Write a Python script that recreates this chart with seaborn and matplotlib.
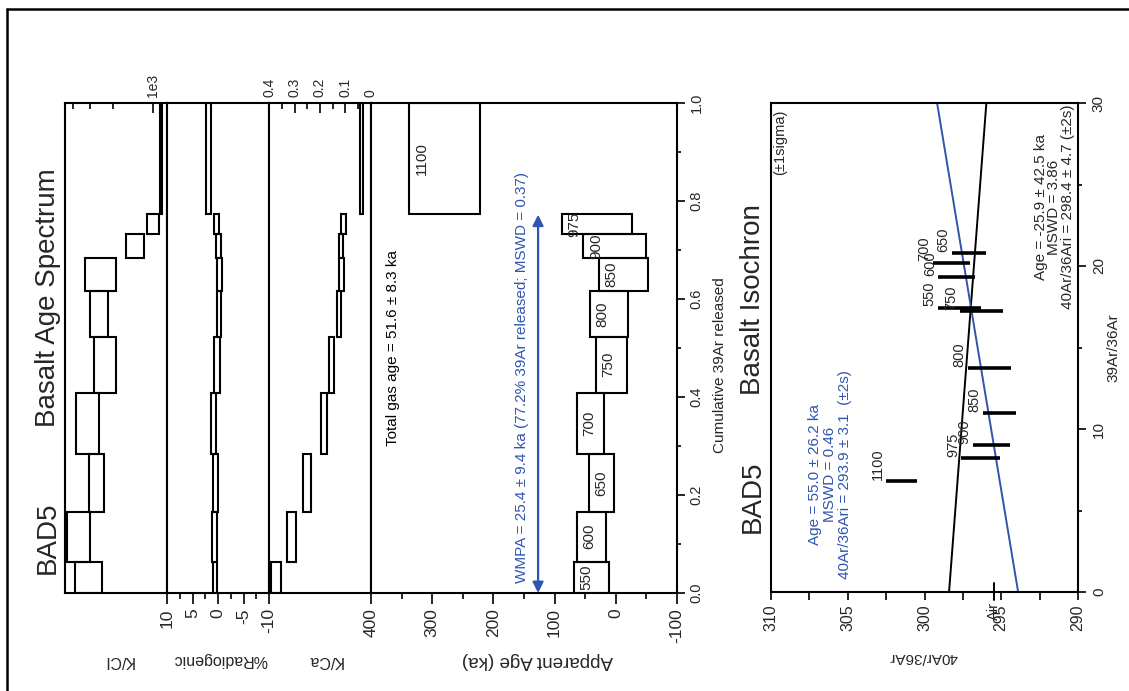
import numpy as np
import pandas as pd
import matplotlib
matplotlib.use("Agg")
import matplotlib.pyplot as plt
import seaborn as sns
from matplotlib.lines import Line2D
from matplotlib.ticker import FixedLocator, FixedFormatter, MultipleLocator, NullFormatter

sns.set_style("ticks")
plt.rcParams['font.family'] = ['Liberation Sans', 'DejaVu Sans']
plt.rcParams['axes.unicode_minus'] = False

# ---------------- data: age spectrum ----------------
steps = ["550", "600", "650", "700", "750", "800", "850", "900", "975", "1100"]
cum_39ar = [0.0, 0.064, 0.166, 0.284, 0.409, 0.523, 0.616, 0.684, 0.732, 0.773, 1.0]
age_ka = [39.2, 39.5, 23.1, 41.4, 7.5, 11.4, -13.0, 2.1, 31.2, 279.7]
age_err = [28.6, 23.5, 20.7, 22.6, 25.3, 30.8, 40.0, 51.0, 57.2, 57.8]
kcl_lo = [2430, 2980, 2365, 2580, 1905, 2210, 1900, 1170, 900, 860]
kcl_hi = [3860, 4450, 3065, 3790, 2810, 2980, 3245, 1600, 1115, 897]
rad_lo = [0.13, 0.26, -0.07, 0.39, -0.39, -0.52, -0.72, -0.59, -0.26, 1.44]
rad_hi = [1.05, 1.11, 1.05, 1.44, 0.72, 0.26, 0.26, 0.39, 0.78, 2.42]
kca_lo = [0.354, 0.294, 0.236, 0.174, 0.144, 0.118, 0.106, 0.109, 0.099, 0.030]
kca_hi = [0.393, 0.328, 0.268, 0.197, 0.163, 0.135, 0.124, 0.124, 0.119, 0.043]
age_ticks = [400, 300, 200, 100, 0, -100]
rad_ticks = [10, 5, 0, -5, -10]
kca_ticks = [0.4, 0.3, 0.2, 0.1, 0.0]
kca_tick_labels = ["0.4", "0.3", "0.2", "0.1", "0"]
cum_ticks = [0.0, 0.2, 0.4, 0.6, 0.8, 1.0]
wmpa_top = 0.772
wmpa_text = "WMPA = 25.4 \u00b1 9.4 ka (77.2% 39Ar released; MSWD = 0.37)"
total_gas_text = "Total gas age = 51.6 \u00b1 8.3 ka"

# ---------------- data: isochron ----------------
iso_steps = ["550", "600", "650", "700", "750", "800", "850", "900", "975", "1100"]
iso_39_36 = [17.44, 19.3, 20.8, 20.2, 17.24, 13.72, 10.96, 9.02, 8.2, 6.81]
iso_40_36 = [297.70, 297.92, 297.10, 298.25, 296.30, 295.75, 295.10, 295.65, 296.35, 301.50]
iso_40_36_err = [1.41, 1.19, 1.13, 1.20, 1.40, 1.41, 1.09, 1.20, 1.25, 0.98]
fit_names = ["all steps", "plateau"]
fit_intercept = [298.4, 293.9]
fit_slope = [-0.081, 0.176]
fit_colors = ["black", "#2f55b0"]
fit_text_black = "Age = -25.9 \u00b1 42.5 ka\nMSWD = 3.86\n40Ar/36Ari = 298.4 \u00b1 4.7 (\u00b12s)"
fit_text_blue = "Age = 55.0 \u00b1 26.2 ka\nMSWD = 0.46\n40Ar/36Ari = 293.9 \u00b1 3.1  (\u00b12s)"
air_value = 295.5
iso_x_ticks = [310, 305, 300, 295, 290]
iso_y_ticks = [0, 10, 20, 30]

BLUE = "#2f55b0"
W, H = 1129, 691
fig = plt.figure(figsize=(W / 100, H / 100), dpi=100)


def rect(x0, y0, x1, y1):
    return [x0 / W, 1 - y1 / H, (x1 - x0) / W, (y1 - y0) / H]


def fx(x):
    return x / W


def fy(y):
    return 1 - y / H


LW = 1.5
ax_kcl = fig.add_axes(rect(65, 103, 167, 593))
ax_rad = fig.add_axes(rect(167, 103, 269, 593))
ax_kca = fig.add_axes(rect(269, 103, 371, 593))
ax_age = fig.add_axes(rect(371, 103, 677, 593))
ax_iso = fig.add_axes(rect(771, 103, 1078, 592))

cum = np.array(cum_39ar)
lo_c = cum[:-1]
hgt = np.diff(cum)
mid_c = lo_c + hgt / 2

for ax in (ax_kcl, ax_rad, ax_kca, ax_age, ax_iso):
    for s in ax.spines.values():
        s.set_linewidth(LW)
        s.set_color("black")
    ax.set_facecolor("white")
    ax.tick_params(left=False, labelleft=False, right=False, labelright=False,
                   top=False, labeltop=False, bottom=False, labelbottom=False,
                   which="both", color="black", width=1.2)

box_kw = dict(align="edge", facecolor="none", edgecolor="black", linewidth=LW)

# K/Cl (log)
ax_kcl.set_xscale("log")
ax_kcl.barh(lo_c, np.array(kcl_hi) - np.array(kcl_lo), left=kcl_lo, height=hgt, **box_kw)
ax_kcl.set_xlim(4620, 790)
ax_kcl.set_ylim(0, 1)
ax_kcl.xaxis.set_major_locator(FixedLocator([1000]))
ax_kcl.xaxis.set_major_formatter(FixedFormatter(["1e3"]))
ax_kcl.xaxis.set_minor_locator(FixedLocator([2000, 3000, 4000]))
ax_kcl.xaxis.set_minor_formatter(NullFormatter())
ax_kcl.tick_params(axis="x", which="both", top=True, labeltop=True, direction="in",
                   labelrotation=90, labelsize=10, pad=4)
ax_kcl.tick_params(axis="x", which="major", length=7)
ax_kcl.tick_params(axis="x", which="minor", length=4)

# %Radiogenic
ax_rad.barh(lo_c, np.array(rad_hi) - np.array(rad_lo), left=rad_lo, height=hgt, **box_kw)
ax_rad.set_xlim(10, -10)
ax_rad.set_ylim(0, 1)
ax_rad.xaxis.set_major_locator(FixedLocator(rad_ticks))
ax_rad.xaxis.set_minor_locator(MultipleLocator(2.5))
ax_rad.tick_params(axis="x", which="both", bottom=True, labelbottom=True, direction="out",
                   labelrotation=90, labelsize=12.5, pad=3)
ax_rad.tick_params(axis="x", which="major", length=8)
ax_rad.tick_params(axis="x", which="minor", length=4)

# K/Ca
ax_kca.barh(lo_c, np.array(kca_hi) - np.array(kca_lo), left=kca_lo, height=hgt, **box_kw)
ax_kca.set_xlim(0.4, 0.0)
ax_kca.set_ylim(0, 1)
ax_kca.xaxis.set_major_locator(FixedLocator(kca_ticks))
ax_kca.xaxis.set_major_formatter(FixedFormatter(kca_tick_labels))
ax_kca.xaxis.set_minor_locator(MultipleLocator(0.05))
ax_kca.tick_params(axis="x", which="both", top=True, labeltop=True, direction="in",
                   labelrotation=90, labelsize=10, pad=4)
ax_kca.tick_params(axis="x", which="major", length=7)
ax_kca.tick_params(axis="x", which="minor", length=4)

# Apparent age
ax_age.barh(lo_c, 2 * np.array(age_err), left=np.array(age_ka) - np.array(age_err), height=hgt, **box_kw)
ax_age.set_xlim(400, -100)
ax_age.set_ylim(0, 1)
ax_age.xaxis.set_major_locator(FixedLocator(age_ticks))
ax_age.xaxis.set_minor_locator(MultipleLocator(50))
ax_age.tick_params(axis="x", which="both", bottom=True, labelbottom=True, direction="out",
                   labelrotation=90, labelsize=12.5, pad=3)
ax_age.tick_params(axis="x", which="major", length=8)
ax_age.tick_params(axis="x", which="minor", length=4)
ax_age.yaxis.set_major_locator(FixedLocator(cum_ticks))
ax_age.yaxis.set_minor_locator(MultipleLocator(0.1))
ax_age.tick_params(axis="y", which="both", right=True, labelright=True, direction="out",
                   labelrotation=90, labelsize=10.5, pad=3)
ax_age.tick_params(axis="y", which="major", length=6)
ax_age.tick_params(axis="y", which="minor", length=3)
for t in ax_age.get_yticklabels():
    t.set_va("center")

for i, s in enumerate(steps):
    ax_age.annotate(s, xy=(age_ka[i] + age_err[i], mid_c[i]), xytext=(9, 0),
                    textcoords="offset points", rotation=90, ha="center", va="center",
                    fontsize=11)

ax_age.annotate("", xy=(127, wmpa_top), xytext=(127, 0.0),
                arrowprops=dict(arrowstyle="<|-|>", color=BLUE, lw=1.6,
                                mutation_scale=16, shrinkA=0, shrinkB=0))
ax_age.text(153, 0.02, wmpa_text, rotation=90, ha="center", va="bottom",
            color=BLUE, fontsize=11)
ax_age.text(364, 0.50, total_gas_text, rotation=90, ha="center", va="center",
            color="black", fontsize=11)

# ---------------- isochron ----------------
ax_iso.set_xlim(310, 290)
ax_iso.set_ylim(0, 30)
for i in range(len(fit_names)):
    xs = np.array([0.0, 30.0])
    df = pd.DataFrame({"r39": xs, "r40": fit_intercept[i] + fit_slope[i] * xs})
    sns.lineplot(data=df, x="r40", y="r39", ax=ax_iso, color=fit_colors[i],
                 lw=1.4, sort=False, estimator=None)
ax_iso.errorbar(iso_40_36, iso_39_36, xerr=iso_40_36_err, fmt="none",
                ecolor="black", elinewidth=2.6, capsize=0)
for i, s in enumerate(iso_steps):
    ax_iso.annotate(s, xy=(iso_40_36[i] + iso_40_36_err[i], iso_39_36[i]),
                    xytext=(-6, 1), textcoords="offset points", rotation=90,
                    ha="center", va="bottom", fontsize=10.5)
ax_iso.set_xlabel("")
ax_iso.set_ylabel("")
ax_iso.xaxis.set_major_locator(FixedLocator(iso_x_ticks))
ax_iso.xaxis.set_minor_locator(MultipleLocator(2.5))
ax_iso.tick_params(axis="x", which="both", bottom=True, labelbottom=True, direction="out",
                   labelrotation=90, labelsize=11.5, pad=3, length=6)
ax_iso.yaxis.set_major_locator(FixedLocator(iso_y_ticks))
ax_iso.yaxis.set_minor_locator(MultipleLocator(5))
ax_iso.tick_params(axis="y", which="both", right=True, labelright=True, direction="out",
                   labelrotation=90, labelsize=11, pad=4)
ax_iso.tick_params(axis="y", which="major", length=6)
ax_iso.tick_params(axis="y", which="minor", length=3)
for t in ax_iso.get_yticklabels():
    t.set_va("center")

ax_iso.plot([air_value, air_value], [-0.5, 0.55], color="black", lw=1.4, clip_on=False)
ax_iso.text(air_value, -0.6, "Air", rotation=90, ha="center", va="top", fontsize=10.5)

ax_iso.text(0.029, 0.986, "(\u00b11sigma)", transform=ax_iso.transAxes, rotation=90,
            ha="center", va="top", fontsize=10.5)
ax_iso.text(0.922, 0.787, fit_text_black, transform=ax_iso.transAxes, rotation=90,
            ha="center", va="center", multialignment="center", fontsize=11,
            linespacing=0.95)
ax_iso.text(0.192, 0.241, fit_text_blue, transform=ax_iso.transAxes, rotation=90,
            ha="center", va="center", multialignment="center", fontsize=11,
            linespacing=1.1, color=BLUE)

# ---------------- figure-level labels ----------------
fig.text(fx(48), fy(298), "Basalt Age Spectrum", rotation=90, ha="center", va="center", fontsize=20)
fig.text(fx(48), fy(538), "BAD5", rotation=90, ha="center", va="center", fontsize=20)
fig.text(fx(753), fy(300), "Basalt Isochron", rotation=90, ha="center", va="center", fontsize=20)
fig.text(fx(753), fy(497), "BAD5", rotation=90, ha="center", va="center", fontsize=20)
fig.text(fx(720), fy(365), "Cumulative 39Ar released", rotation=90, ha="center", va="center", fontsize=11)
fig.text(fx(1113), fy(348), "39Ar/36Ar", rotation=90, ha="center", va="center", fontsize=11)
fig.text(fx(923), fy(657), "40Ar/36Ar", rotation=180, ha="center", va="center", fontsize=11)
fig.text(fx(537), fy(660), "Apparent Age (ka)", rotation=180, ha="center", va="center", fontsize=13.5)
fig.text(fx(325), fy(660), "K/Ca", rotation=180, ha="center", va="center", fontsize=11.5)
fig.text(fx(220), fy(660), "%Radiogenic", rotation=180, ha="center", va="center", fontsize=11.5)
fig.text(fx(119), fy(660), "K/Cl", rotation=180, ha="center", va="center", fontsize=11.5)

# page border (top and left)
fig.add_artist(Line2D([fx(7), 1.0], [fy(9), fy(9)], color="black", lw=1.8, transform=fig.transFigure))
fig.add_artist(Line2D([fx(7), fx(7)], [0.0, fy(9)], color="black", lw=1.8, transform=fig.transFigure))

fig.savefig("out.png", dpi=100, facecolor="white")
